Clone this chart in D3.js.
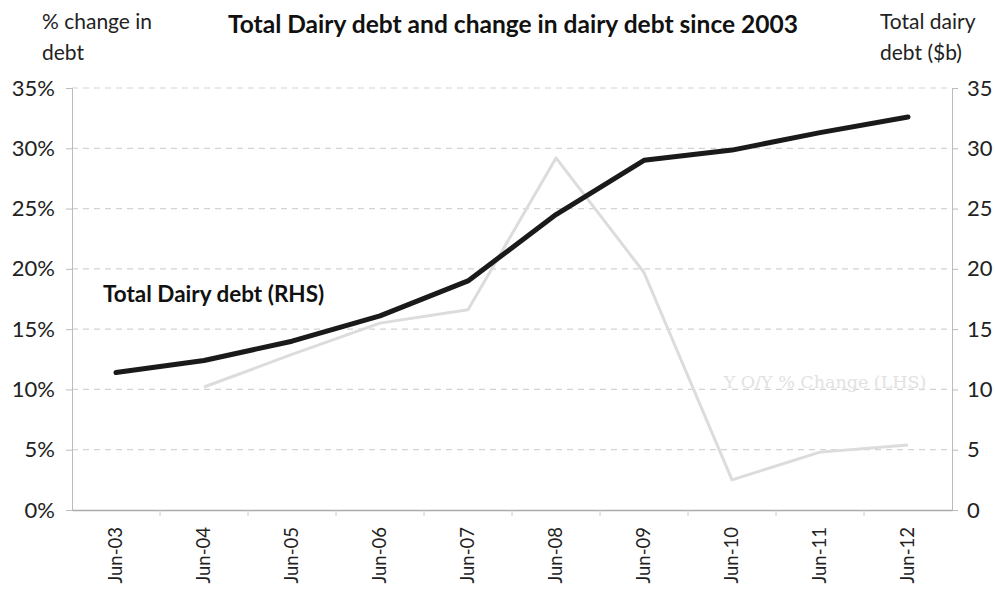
<!DOCTYPE html>
<html><head><meta charset="utf-8">
<script src="https://cdn.jsdelivr.net/npm/d3@7"></script>
<style>body{margin:0;background:#fff}svg{display:block}</style>
</head><body>
<svg id="c" width="995" height="591"></svg>
<script>
const categories = ["Jun-03","Jun-04","Jun-05","Jun-06","Jun-07","Jun-08","Jun-09","Jun-10","Jun-11","Jun-12"];
const debtValues = [11.4, 12.4, 14.0, 16.1, 19.0, 24.5, 29.0, 29.85, 31.3, 32.6];
const yoyValues = [null, 10.2, 12.9, 15.5, 16.6, 29.2, 19.7, 2.5, 4.8, 5.4];
const leftTicks = [0,5,10,15,20,25,30,35];
const rightTicks = [0,5,10,15,20,25,30,35];

const svg = d3.select("#c");
const font = "Lato, 'Open Sans', sans-serif";
const L = 72, R = 952, T = 88, B = 510;

const x = d3.scaleBand().domain(categories).range([L, R]);
const yL = d3.scaleLinear().domain([0,35]).range([B, T]);
const yR = d3.scaleLinear().domain([0,35]).range([B, T]);

// grid
svg.append("g").selectAll("line").data(leftTicks.filter(d=>d>0)).join("line")
  .attr("x1", L).attr("x2", R).attr("y1", d=>yL(d)).attr("y2", d=>yL(d))
  .attr("stroke", "#d4d4d4").attr("stroke-width", 1.2).attr("stroke-dasharray", "6,5");

// left axis
const gl = svg.append("g").attr("transform", `translate(${L},0)`)
  .call(d3.axisLeft(yL).tickValues(leftTicks).tickSize(6).tickPadding(11).tickFormat(d=>d+"%"));
gl.selectAll("text").attr("font-family", font).attr("font-size", 22).attr("fill", "#222");
gl.selectAll("line, path").attr("stroke", "#bbb");

// right axis
const gr = svg.append("g").attr("transform", `translate(${R},0)`)
  .call(d3.axisRight(yR).tickValues(rightTicks).tickSize(6).tickPadding(9));
gr.selectAll("text").attr("font-family", font).attr("font-size", 22).attr("fill", "#222");
gr.selectAll("line, path").attr("stroke", "#bbb");

// bottom axis
const gb = svg.append("g").attr("transform", `translate(0,${B})`)
  .call(d3.axisBottom(x).tickSize(0).tickPadding(0));
gb.select("path").attr("stroke", "#aaa").attr("stroke-width", 1.5);
gb.selectAll("text").attr("font-family", font).attr("font-size", 18.5).attr("fill", "#222")
  .attr("text-anchor", "end").attr("transform", "rotate(-90)")
  .attr("x", -17).attr("y", 0).attr("dy", "0.35em");
// boundary ticks
gb.append("g").selectAll("line").data(categories.slice(1)).join("line")
  .attr("x1", d=>x(d)).attr("x2", d=>x(d)).attr("y1", 0).attr("y2", 6)
  .attr("stroke", "#ccc");

// lines
const lineL = d3.line().defined(d=>d[1]!=null).x(d=>x(d[0])+x.bandwidth()/2).y(d=>yL(d[1]));
const lineR = d3.line().x(d=>x(d[0])+x.bandwidth()/2).y(d=>yR(d[1]));
svg.append("path").datum(categories.map((c,i)=>[c,yoyValues[i]]))
  .attr("d", lineL).attr("fill","none").attr("stroke","#dcdcdc").attr("stroke-width",3).attr("stroke-linejoin","round");
svg.append("path").datum(categories.map((c,i)=>[c,debtValues[i]]))
  .attr("d", lineR).attr("fill","none").attr("stroke","#1a1a1a").attr("stroke-width",5).attr("stroke-linejoin","round").attr("stroke-linecap","round");

// texts
svg.append("text").attr("x", 513).attr("y", 33).attr("text-anchor","middle")
  .attr("font-family", font).attr("font-weight","bold").attr("font-size", 24.5).attr("fill","#111")
  .attr("textLength", 570).attr("lengthAdjust", "spacingAndGlyphs")
  .text("Total Dairy debt and change in dairy debt since 2003");
svg.append("text").attr("x", 42).attr("y", 29).attr("font-family", font).attr("font-size", 21).attr("fill","#222").text("% change in");
svg.append("text").attr("x", 42).attr("y", 60).attr("font-family", font).attr("font-size", 21).attr("fill","#222").text("debt");
svg.append("text").attr("x", 880).attr("y", 29).attr("font-family", font).attr("font-size", 21).attr("fill","#222").text("Total dairy");
svg.append("text").attr("x", 880).attr("y", 60).attr("font-family", font).attr("font-size", 21).attr("fill","#222").text("debt ($b)");
svg.append("text").attr("x", 103).attr("y", 302).attr("font-family", font).attr("font-weight","bold").attr("font-size", 22.5).attr("fill","#111").text("Total Dairy debt (RHS)");
svg.append("text").attr("x", 825).attr("y", 388).attr("text-anchor","middle").attr("font-family", "'DejaVu Serif', serif").attr("font-size", 17.5).attr("fill","#e2e2e2").text("Y O/Y % Change (LHS)");
</script>
</body></html>
